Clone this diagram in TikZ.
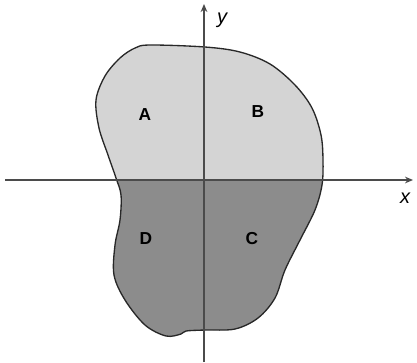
\documentclass[tikz,border=0pt]{standalone}
\usepackage{fontspec}
\setmainfont{Liberation Sans}
\usetikzlibrary{arrows.meta}
\definecolor{lightfill}{RGB}{212,212,212}
\definecolor{darkfill}{RGB}{140,140,140}
\definecolor{axiscol}{RGB}{75,75,75}
\definecolor{edgecol}{RGB}{40,40,40}
\tikzset{
  region/.style={font=\bfseries\fontsize{13}{15}\selectfont, text=black},
  axislab/.style={font=\itshape\fontsize{15}{17}\selectfont, text=black},
  axisline/.style={draw=axiscol, line width=1.2pt, -{Stealth[length=6pt,width=5pt]}},
  outline/.style={draw=edgecol, line width=1pt}
}
\begin{document}
\begin{tikzpicture}[x=0.75pt,y=-0.75pt]
\useasboundingbox (0,0) rectangle (417,362);
\def\blob{plot[smooth cycle, tension=0.55] coordinates {
 (150,45) (205,47) (240,52) (270,64) (295,85) (312,108) (321,135) (323,160)
 (322,185) (315,210) (300,240) (285,270) (275,298) (258,318) (235,329)
 (205,330) (186,331) (181,334) (166,336) (145,325) (125,300) (114,275)
 (115,245) (120,220) (121,195) (116,178) (108,155) (99,128) (96,100)
 (105,76) (120,58) (135,48)}}
\begin{scope}
  \clip (0,0) rectangle (417,180);
  \fill[lightfill] \blob;
\end{scope}
\begin{scope}
  \clip (0,180) rectangle (417,362);
  \fill[darkfill] \blob;
\end{scope}
\draw[outline] \blob;
\coordinate (xs) at (5,180);
\coordinate (xe) at (413,180);
\coordinate (ys) at (204,362);
\coordinate (ye) at (204,4);
\draw[axisline] (xs) -- (xe);
\draw[axisline] (ys) -- (ye);
\node[axislab] (ylab) at (222,20) {y};
\node[axislab] (xlab) at (405,198) {x};
\node[region] (A) at (145,115) {A};
\node[region] (B) at (258,112) {B};
\node[region] (C) at (252,239) {C};
\node[region] (D) at (146,239) {D};
\end{tikzpicture}
\end{document}
